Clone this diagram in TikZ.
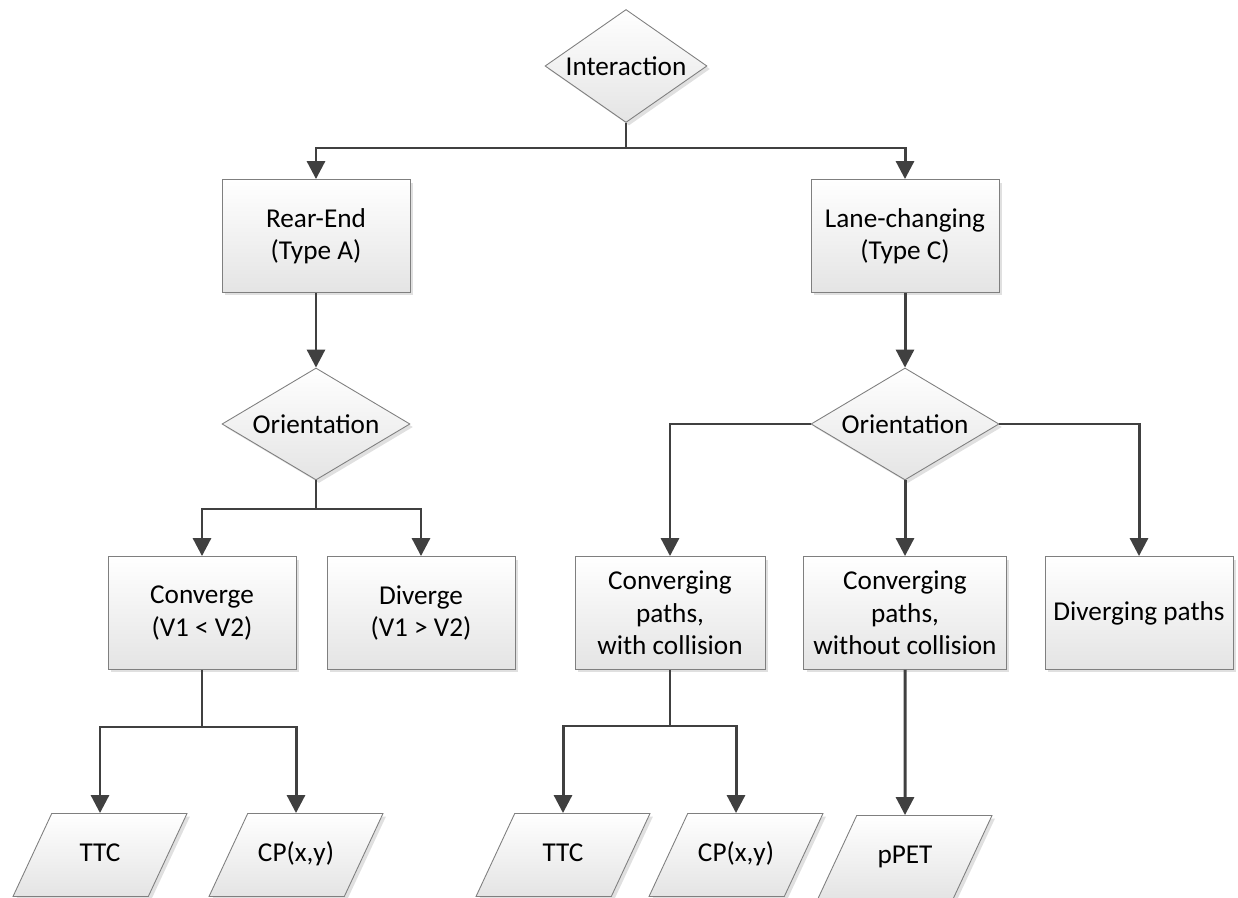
\documentclass[tikz,border=0pt]{standalone}
\usepackage{fontspec}
\setmainfont{Carlito}
\usepackage{tikz}
\usetikzlibrary{shapes.geometric,arrows.meta,shadows}

\definecolor{linegray}{HTML}{404040}
\definecolor{edgegray}{HTML}{7F7F7F}
\definecolor{fillgray}{HTML}{E4E4E4}

\tikzset{
  shape base/.style={draw=edgegray, line width=0.5pt, top color=white, bottom color=fillgray,
    align=center, inner sep=0pt, font=\fontsize{15.5}{18.5}\selectfont,
    drop shadow={shadow xshift=0.06cm, shadow yshift=-0.06cm, fill=black, opacity=0.12}},
  decision/.style={shape base, diamond, aspect=1.68, minimum width=3.76cm, minimum height=2.24cm},
  procbox/.style={shape base, rectangle, minimum width=3.76cm, minimum height=2.26cm},
  datain/.style={shape base, trapezium, trapezium left angle=65, trapezium right angle=115,
    trapezium stretches body=true, text height=0.36cm, text depth=0.1cm, inner ysep=0.6cm,
    minimum width=3.48cm},
  arr/.style={draw=linegray, line width=1.7pt, -{Triangle[length=0.36cm,width=0.36cm]}},
  conn/.style={draw=linegray, line width=1.7pt}
}

\begin{document}
\begin{tikzpicture}[x=0.02cm, y=-0.02cm]
  \useasboundingbox (0,0) rectangle (1238,898);

  % top level
  \node[decision, aspect=1.43, minimum width=3.24cm, minimum height=2.26cm] (inter) at (626,66) {Interaction};
  \node[procbox] (rear) at (316,236) {Rear-End\\(Type A)};
  \node[procbox] (lane) at (905,236) {Lane-changing\\(Type C)};
  \coordinate (jtop) at (626,148);
  \draw[conn] (inter.south) -- (jtop);
  \draw[arr] (jtop) -| (rear.north);
  \draw[arr] (jtop) -| (lane.north);

  % rear-end branch
  \node[decision] (orA) at (316,424) {Orientation};
  \node[procbox] (conv) at (202,613) {Converge\\(V1 < V2)};
  \node[procbox] (div) at (421,613) {Diverge\\(V1 > V2)};
  \coordinate (jA) at (316,509);
  \draw[arr] (rear.south) -- (orA.north);
  \draw[conn] (orA.south) -- (jA);
  \draw[arr] (jA) -| (conv.north);
  \draw[arr] (jA) -| (div.north);

  \node[datain] (ttcA) at (100,855) {TTC};
  \node[datain] (cpA) at (296,855) {CP(x,y)};
  \coordinate (jconv) at (202,727);
  \draw[conn] (conv.south) -- (jconv);
  \draw[arr] (jconv) -| (ttcA.north);
  \draw[arr] (jconv) -| (cpA.north);

  % lane-changing branch
  \node[decision] (orC) at (905,424) {Orientation};
  \node[procbox, minimum width=3.8cm] (cwc) at (670,613) {Converging\\paths,\\with collision};
  \node[procbox, minimum width=4.06cm] (cwoc) at (905,613) {Converging\\paths,\\without collision};
  \node[procbox] (dp) at (1139,613) {Diverging paths};
  \draw[arr] (lane.south) -- (orC.north);
  \draw[arr] (orC.west) -| (cwc.north);
  \draw[arr] (orC.south) -- (cwoc.north);
  \draw[arr] (orC.east) -| (dp.north);

  \node[datain] (ttcC) at (563,855) {TTC};
  \node[datain] (cpC) at (736,855) {CP(x,y)};
  \node[datain] (ppet) at (905,857) {pPET};
  \coordinate (jcwc) at (670,726);
  \draw[conn] (cwc.south) -- (jcwc);
  \draw[arr] (jcwc) -| (ttcC.north);
  \draw[arr] (jcwc) -| (cpC.north);
  \draw[arr] (cwoc.south) -- (ppet.north);

\end{tikzpicture}
\end{document}
